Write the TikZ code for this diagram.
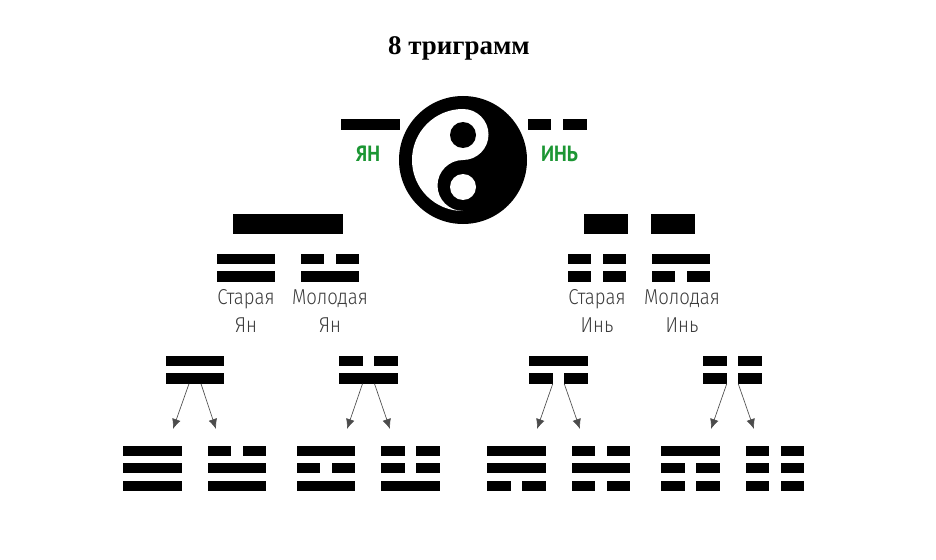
\documentclass[tikz,border=0pt]{standalone}
\usepackage{fontspec}
\setmainfont{Liberation Serif}
\newfontfamily\greenfont{PT Sans}
\newfontfamily\thinfont[UprightFont=* Light]{Fira Sans}
\definecolor{LabelGreen}{RGB}{28,150,52}
\definecolor{LabelGray}{RGB}{60,60,60}
\usetikzlibrary{arrows.meta, calc}
\tikzset{
  yangbar/.style={rectangle, fill=black, inner sep=0pt, outer sep=0pt,
                  minimum width=58.5*0.75pt, minimum height=10.5*0.75pt},
  yinbar/.style={yangbar, minimum width=23.5*0.75pt},
  blockbar/.style={yangbar, minimum height=20*0.75pt},
  namelabel/.style={font=\thinfont\fontsize{16.2}{18}\selectfont, text=LabelGray, align=center, inner sep=0pt, xscale=0.86},
  greenlabel/.style={font=\greenfont\bfseries\fontsize{16.5}{18}\selectfont, text=LabelGreen, inner sep=0pt, xscale=0.89},
  splitarrow/.style={-{Latex[length=7.5pt,width=6.5pt]}, draw=black!70, line width=0.5pt}
}
\begin{document}
\begin{tikzpicture}[x=0.75pt,y=-0.75pt]
  \useasboundingbox (0,0) rectangle (936,560);
  \node[font=\bfseries\fontsize{20.2}{22}\selectfont, inner sep=0pt] (title) at (459,48.5) {8 триграмм};
  % Yin-yang sign
  \fill[black] (463,160) circle[radius=64];
  \fill[white] (463,109) arc[start angle=-90, end angle=-270, radius=51]
               arc[start angle=90, end angle=270, radius=25.5]
               arc[start angle=90, end angle=-90, radius=25.5] -- cycle;
  \fill[black] (463,135) circle[radius=13];
  \fill[white] (463,187) circle[radius=13];
  % Top lines with names
  \node[yangbar, minimum width=59*0.75pt, minimum height=11*0.75pt] (yang) at (370.5,124.5) {};
  \node[yinbar, minimum height=11*0.75pt] (yinl) at (539.5,124.5) {};
  \node[yinbar, minimum height=11*0.75pt] (yinr) at (575,124.5) {};
  \node[greenlabel] (yanglabel) at (368,153.5) {ЯН};
  \node[greenlabel] (yinlabel) at (559.5,153.5) {ИНЬ};
  % Thick blocks
  \node[blockbar, minimum width=110*0.75pt] (blockyang) at (288,224) {};
  \node[blockbar, minimum width=44*0.75pt] (blockyinl) at (606,224) {};
  \node[blockbar, minimum width=44*0.75pt] (blockyinr) at (673,224) {};
  % Solid lines: name/centre/level
  \foreach \nm/\x/\y in {oldyangt/246/259, oldyangb/246/276.5, youngyangb/330/276.5,
                         youngyint/681/259,
                         digAt/195/361, digAb/195/378.5, digBb/368.5/378.5, digCt/558.5/361,
                         triAt/152.5/451, triAm/152.5/468, triAb/152.5/486,
                         triBm/237/468, triBb/237/486,
                         triCt/326/451, triCb/326/486,
                         triDb/410.5/486,
                         triEt/516.5/451, triEm/516.5/468,
                         triFm/601/468,
                         triGt/690.5/451}
    \node[yangbar] (\nm) at (\x,\y) {};
  % Broken lines: name/centre/level
  \foreach \nm/\x/\y in {youngyangt/330/259,
                         oldyint/597/259, oldyinb/597/276.5, youngyinb/681/276.5,
                         digBt/368.5/361, digCb/558.5/378.5, digDt/732.5/361, digDb/732.5/378.5,
                         triBt/237/451,
                         triCm/326/468,
                         triDt/410.5/451, triDm/410.5/468,
                         triEb/516.5/486,
                         triFt/601/451, triFb/601/486,
                         triGm/690.5/468, triGb/690.5/486,
                         triHt/775/451, triHm/775/468, triHb/775/486} {
    \node[yinbar] (\nm l) at (\x-17.5,\y) {};
    \node[yinbar] (\nm r) at (\x+17.5,\y) {};
  }
  % Names under the pairs
  \node[namelabel] (oldyang) at (246,311) {Старая\\[3.5pt]Ян};
  \node[namelabel] (youngyang) at (330,311) {Молодая\\[3.5pt]Ян};
  \node[namelabel] (oldyin) at (597,311) {Старая\\[3.5pt]Инь};
  \node[namelabel] (youngyin) at (682,311) {Молодая\\[3.5pt]Инь};
  % Arrows to the trigrams
  \foreach \nm/\xa/\xb in {A/173/216, B/347/390, C/537/580, D/711/754} {
    \coordinate (tip\nm l) at (\xa,429);
    \coordinate (tip\nm r) at (\xb,429);
  }
  \draw[splitarrow] ($(digAb.south)+(-6,0)$) -- (tipAl);
  \draw[splitarrow] ($(digAb.south)+(6,0)$) -- (tipAr);
  \draw[splitarrow] ($(digBb.south)+(-6,0)$) -- (tipBl);
  \draw[splitarrow] ($(digBb.south)+(6,0)$) -- (tipBr);
  \draw[splitarrow] (digCbl.south east) -- (tipCl);
  \draw[splitarrow] (digCbr.south west) -- (tipCr);
  \draw[splitarrow] (digDbl.south east) -- (tipDl);
  \draw[splitarrow] (digDbr.south west) -- (tipDr);
\end{tikzpicture}
\end{document}
